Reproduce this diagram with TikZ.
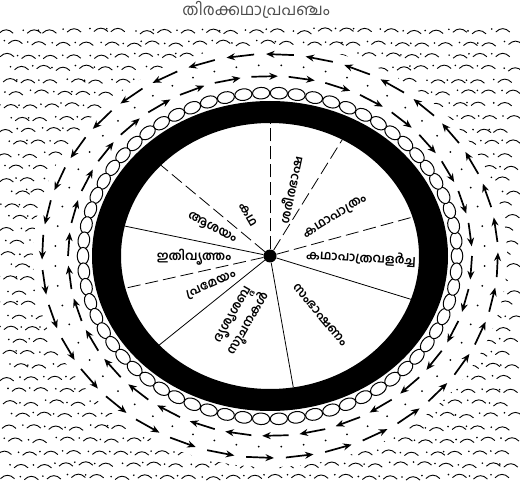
\documentclass[tikz,border=0pt]{standalone}
\usepackage{fontspec}
\newfontfamily\mlfont[Script=Malayalam]{Hind Kochi}
\usepackage{tikz}
\usetikzlibrary{arrows.meta, positioning, calc}

\begin{document}
\begin{tikzpicture}[
    x=1pt, y=1pt,
    part/.style={font=\mlfont\bfseries\fontsize{12.5}{18}\selectfont, inner sep=1pt, align=center},
    spoke/.style={line width=0.8pt},
    dashspoke/.style={line width=0.8pt, dash pattern=on 13pt off 5pt},
    flow/.style={-{Stealth[length=8.5pt, width=7pt]}, line width=1.7pt},
    link/.style={draw, line width=1pt, fill=white},
    wave/.style={line width=0.9pt}
]
\useasboundingbox (0,0) rectangle (520,496);

% sea of waves
\pgfmathsetseed{7}
\foreach \r in {0,...,36} {
  \foreach \c in {0,...,22} {
    \pgfmathsetmacro{\wx}{8 + 22.5*\c + mod(\r,2)*11 + 4*rand}
    \pgfmathsetmacro{\wy}{17 + 12.4*\r + 1.5*rand}
    \draw[wave] (\wx-7,\wy) .. controls (\wx-2.5,\wy+4.5) and (\wx+2.5,\wy+4.5) .. (\wx+7,\wy);
    \fill (\wx-11,\wy+3) circle (0.9);
  }
}
\fill[white] (270,240) ellipse [x radius=237, y radius=211];
\foreach \a in {0,6,...,354}
  \fill ({270+215*cos(\a+3)},{240+191*sin(\a+3)}) circle (1);

% two rings of flow
\foreach \i in {0,...,33} {
  \pgfmathsetmacro{\a}{\i/34*360}
  \draw[flow] ({270+202*cos(\a)},{240+180*sin(\a)}) -- ({270+202*cos(\a-7.5)},{240+180*sin(\a-7.5)});
}
\foreach \i in {0,...,35} {
  \pgfmathsetmacro{\a}{\i*10+4}
  \draw[flow] ({270+228*cos(\a)},{240+202*sin(\a)}) -- ({270+228*cos(\a+7)},{240+202*sin(\a+7)});
}

% chain of links
\foreach \i in {0,...,65} {
  \pgfmathsetmacro{\ct}{\i/66*360}
  \pgfmathsetmacro{\rot}{atan2(163*cos(\ct), -187*sin(\ct))}
  \begin{scope}[shift={({270+187*cos(\ct)},{240+163*sin(\ct)})}, rotate=\rot]
    \draw[link] (0,0) ellipse [x radius=8.6, y radius=5.8];
  \end{scope}
}

% wheel
\node[circle, fill, inner sep=0pt, minimum size=13pt] (hub) at (270,240) {};
\foreach \ang/\s [count=\k] in {90/dashspoke, 61/dashspoke, 17/dashspoke, -19/spoke, -81/spoke,
    -138/spoke, -166/dashspoke, 167/spoke, 137/dashspoke} {
  \coordinate (rim\k) at ({270+149*cos(\ang)},{240+133*sin(\ang)});
  \draw[\s] (hub) -- (rim\k);
}
\fill[even odd rule] (270,240) ellipse [x radius=178, y radius=155]
                     (270,240) ellipse [x radius=149, y radius=133];

\node[part, rotate=-28] (asayam) at (212,268) {ആശയം};
\node[part, rotate=-60] (katha) at (248,281) {കഥ};
\node[part, rotate=78] (bhasha) at (290,306) {ശരീരഭാഷ};
\node[part, rotate=32] (pathram) at (335,279) {കഥാപാത്രം};
\node[part, rotate=-3] (valarcha) at (361,238) {കഥാപാത്രവളർച്ച};
\node[part, rotate=-50] (sambhashanam) at (320,181) {സംഭാഷണം};
\node[part, rotate=60] (soochana) at (242,176) {ദൃശ്യശബ്ദ\\സൂചനകൾ};
\node[part, rotate=24] (prameyam) at (211,211) {പ്രമേയം};
\node[part] (ithivritham) at (194,239) {ഇതിവൃത്തം};

\node[font=\mlfont\fontsize{16}{18}\selectfont, text=black!70] (title) at (256,486) {തിരക്കഥാപ്രപഞ്ചം};
\end{tikzpicture}
\end{document}
